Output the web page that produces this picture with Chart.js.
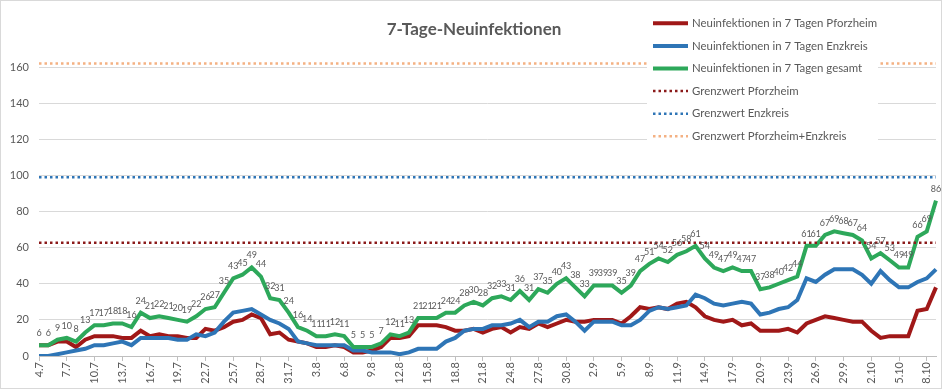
<!DOCTYPE html>
<html>
<head>
<meta charset="utf-8">
<script src="https://cdn.jsdelivr.net/npm/chart.js@4/dist/chart.umd.min.js"></script>
<style>
  html, body { margin: 0; padding: 0; background: #fff; }
  canvas { display: block; }
</style>
</head>
<body>
<canvas id="grafik" width="942" height="389"></canvas>
<script>
// Datum (Tag.Monat)
const tage = [
  '4.7','5.7','6.7','7.7','8.7','9.7','10.7','11.7','12.7','13.7','14.7','15.7','16.7','17.7',
  '18.7','19.7','20.7','21.7','22.7','23.7','24.7','25.7','26.7','27.7','28.7','29.7','30.7','31.7',
  '1.8','2.8','3.8','4.8','5.8','6.8','7.8','8.8','9.8','10.8','11.8','12.8','13.8','14.8','15.8','16.8',
  '17.8','18.8','19.8','20.8','21.8','22.8','23.8','24.8','25.8','26.8','27.8','28.8','29.8','30.8','31.8',
  '1.9','2.9','3.9','4.9','5.9','6.9','7.9','8.9','9.9','10.9','11.9','12.9','13.9','14.9','15.9',
  '16.9','17.9','18.9','19.9','20.9','21.9','22.9','23.9','24.9','25.9','26.9','27.9','28.9','29.9','30.9',
  '1.10','2.10','3.10','4.10','5.10','6.10','7.10','8.10','9.10'
];

const pforzheim = [
  6,6,8,8,5,9,11,11,11,10,10,14,11,12,11,11,10,
  10,15,14,16,19,20,23,21,12,13,9,8,7,5,5,6,5,
  2,2,3,5,10,10,11,17,17,17,16,14,14,15,13,15,
  16,13,16,15,18,16,18,20,19,19,20,20,20,18,22,27,26,
  27,26,29,30,27,22,20,19,20,17,18,14,14,14,15,13,
  18,20,22,21,20,19,19,14,10,11,11,11,25,26,38
];

const enzkreis = [
  0,0,1,2,3,4,6,6,7,8,6,10,10,10,10,9,9,
  12,11,13,19,24,25,26,23,20,18,15,8,7,6,6,6,6,
  3,3,2,2,2,1,2,4,4,4,8,10,14,15,15,17,
  17,18,20,16,19,19,22,23,19,14,19,19,19,17,17,20,25,
  27,26,27,28,34,32,29,28,29,30,29,23,24,26,27,31,
  43,41,45,48,48,48,45,40,47,42,38,38,41,43,48
];

const gesamt = [
  6,6,9,10,8,13,17,17,18,18,16,24,21,22,21,20,19,
  22,26,27,35,43,45,49,44,32,31,24,16,14,11,11,12,11,
  5,5,5,7,12,11,13,21,21,21,24,24,28,30,28,32,
  33,31,36,31,37,35,40,43,38,33,39,39,39,35,39,47,51,
  54,52,56,58,61,54,49,47,49,47,47,37,38,40,42,44,
  61,61,67,69,68,67,64,54,57,53,49,49,66,69,86
];

// Grenzwerte (50 pro 100.000 Einwohner)
const grenzPforzheim = 62.7;
const grenzEnzkreis = 99;
const grenzGesamt = 162;

const schrift = 'Lato, "Open Sans", sans-serif';
const grau = '#595959';

function linie(label, werte, farbe, reihenfolge) {
  return {
    label: label,
    data: werte,
    borderColor: farbe,
    backgroundColor: farbe,
    borderWidth: 4,
    pointRadius: 0,
    tension: 0,
    order: reihenfolge
  };
}

function grenzLinie(label, wert, farbe, reihenfolge) {
  return {
    label: label,
    data: tage.map(() => wert),
    borderColor: farbe,
    backgroundColor: farbe,
    borderWidth: 2.5,
    borderDash: [2.5, 3],
    pointRadius: 0,
    order: reihenfolge
  };
}

// Hintergrund, Rahmen und Titel
const rahmenPlugin = {
  id: 'rahmen',
  beforeDraw(chart) {
    const ctx = chart.ctx;
    ctx.save();
    ctx.fillStyle = '#fff';
    ctx.fillRect(0, 0, chart.width, chart.height);
    ctx.strokeStyle = '#d9d9d9';
    ctx.lineWidth = 1;
    ctx.strokeRect(0.5, 0.5, chart.width - 1, chart.height - 1);
    ctx.restore();
  },
  afterDraw(chart) {
    const ctx = chart.ctx;
    ctx.save();
    ctx.font = 'bold 17px ' + schrift;
    ctx.fillStyle = grau;
    ctx.textAlign = 'center';
    ctx.textBaseline = 'middle';
    ctx.fillText('7-Tage-Neuinfektionen', 474, 30);
    ctx.restore();
  }
};

// Werte über der Gesamt-Linie
const werteLabelPlugin = {
  id: 'werteLabel',
  afterDatasetsDraw(chart) {
    const ctx = chart.ctx;
    const meta = chart.getDatasetMeta(2);
    ctx.save();
    ctx.font = '9px ' + schrift;
    ctx.fillStyle = grau;
    ctx.textAlign = 'center';
    ctx.textBaseline = 'middle';
    meta.data.forEach((punkt, i) => {
      ctx.fillText(String(gesamt[i]), punkt.x, punkt.y - 12);
    });
    ctx.restore();
  }
};

// Legende oben rechts im Diagramm (wie in Excel)
const legendePlugin = {
  id: 'legende',
  afterDatasetsDraw(chart) {
    const ctx = chart.ctx;
    const x0 = 647, y0 = 9;
    ctx.save();
    ctx.fillStyle = '#fff';
    ctx.fillRect(x0, y0, 231, 142);
    chart.data.datasets.forEach((ds, i) => {
      const y = 23.3 + i * 22.6;
      ctx.beginPath();
      ctx.strokeStyle = ds.borderColor;
      ctx.lineWidth = ds.borderWidth;
      ctx.setLineDash(ds.borderDash || []);
      ctx.moveTo(653, y);
      ctx.lineTo(688, y);
      ctx.stroke();
      ctx.setLineDash([]);
      ctx.font = '11.4px ' + schrift;
      ctx.fillStyle = grau;
      ctx.textAlign = 'left';
      ctx.textBaseline = 'middle';
      ctx.fillText(ds.label, 692, y);
    });
    ctx.restore();
  }
};

const grafik = new Chart(document.getElementById('grafik'), {
  type: 'line',
  data: {
    labels: tage,
    datasets: [
      linie('Neuinfektionen in 7 Tagen Pforzheim', pforzheim, '#A01818', 6),
      linie('Neuinfektionen in 7 Tagen Enzkreis', enzkreis, '#2E75B6', 5),
      linie('Neuinfektionen in 7 Tagen gesamt', gesamt, '#2DA85A', 4),
      grenzLinie('Grenzwert Pforzheim', grenzPforzheim, '#8B1A1A', 3),
      grenzLinie('Grenzwert Enzkreis', grenzEnzkreis, '#2E75B6', 2),
      grenzLinie('Grenzwert Pforzheim+Enzkreis', grenzGesamt, '#F4B183', 1)
    ]
  },
  options: {
    responsive: false,
    animation: false,
    devicePixelRatio: 1,
    layout: { padding: { top: 58, right: 6, left: 0, bottom: 0 } },
    plugins: {
      legend: { display: false },
      title: { display: false },
      tooltip: { enabled: false }
    },
    scales: {
      x: {
        offset: false,
        afterFit(scale) {
          scale.height = 33;
          scale.paddingLeft = 0;
          scale.paddingRight = 0;
        },
        grid: {
          drawOnChartArea: false,
          drawTicks: true,
          tickLength: 5,
          color: (c) => (c.index % 3 === 0 ? '#bfbfbf' : 'rgba(0,0,0,0)')
        },
        border: { color: '#bfbfbf' },
        ticks: {
          autoSkip: false,
          maxRotation: 90,
          minRotation: 90,
          padding: 1,
          color: grau,
          font: { family: schrift, size: 11 },
          callback: function (wert, index) {
            return index % 3 === 0 ? tage[index] : '';
          }
        }
      },
      y: {
        min: 0,
        max: 165,
        afterFit(scale) { scale.width = 39; },
        grid: { color: '#d9d9d9', drawTicks: false },
        border: { display: false },
        ticks: {
          stepSize: 20,
          includeBounds: false,
          padding: 10,
          color: grau,
          font: { family: schrift, size: 11 }
        }
      }
    }
  },
  plugins: [rahmenPlugin, werteLabelPlugin, legendePlugin]
});
</script>
</body>
</html>
